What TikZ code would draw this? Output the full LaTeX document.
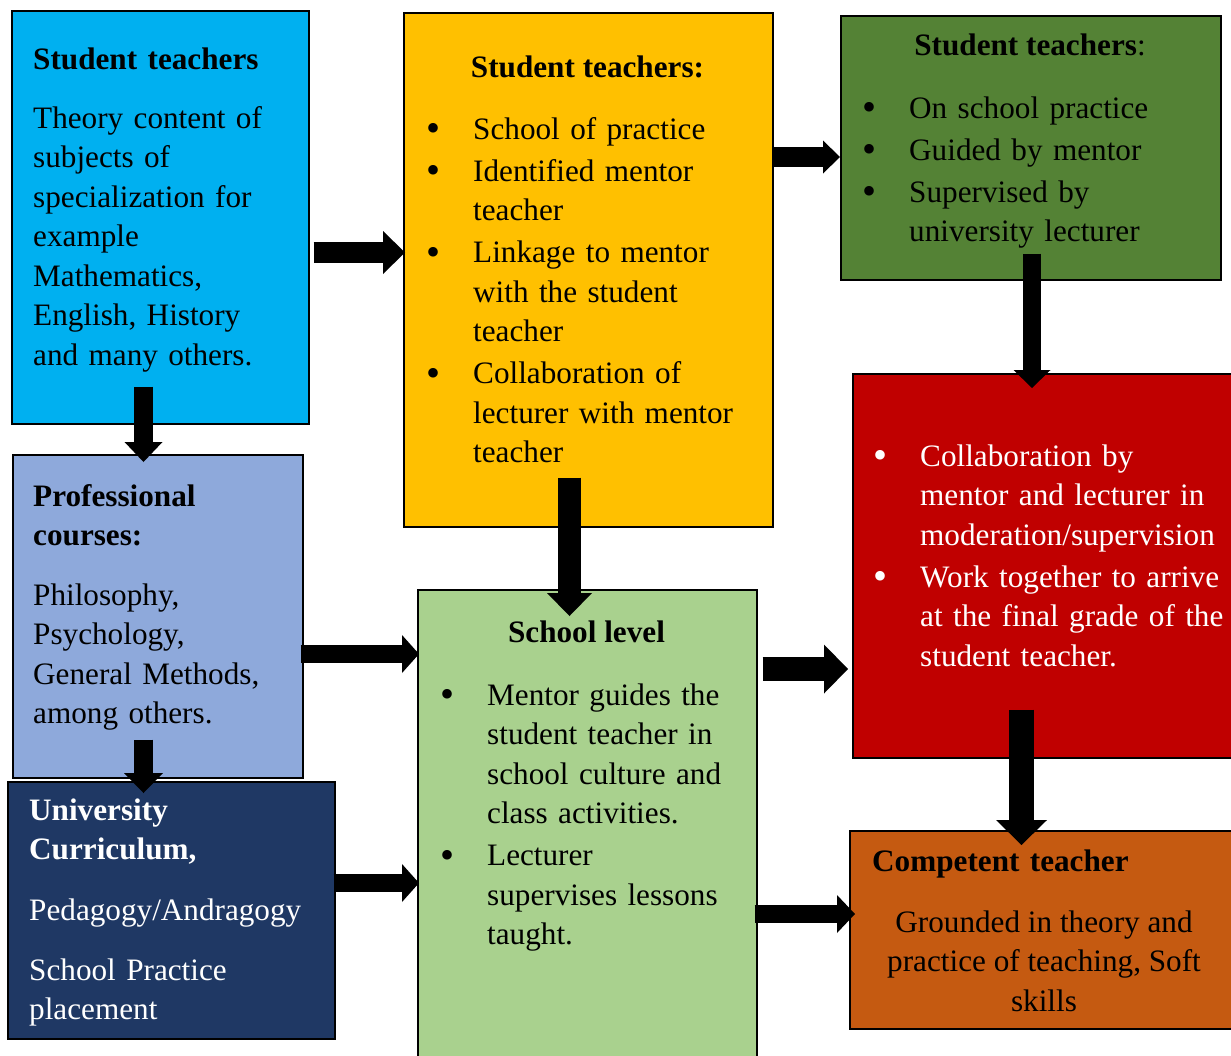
\documentclass[tikz,border=0pt]{standalone}
\usepackage{fontspec}
\setmainfont{Liberation Serif}
\usetikzlibrary{arrows.meta,calc}

\definecolor{cBlue}{HTML}{00B0F0}
\definecolor{cLB}{HTML}{8EA9DB}
\definecolor{cNavy}{HTML}{1F3864}
\definecolor{cYellow}{HTML}{FFC000}
\definecolor{cGreen}{HTML}{A9D18E}
\definecolor{cDG}{HTML}{548235}
\definecolor{cRed}{HTML}{C00000}
\definecolor{cOrange}{HTML}{C55A11}

\newcommand\bodyfont{\fontsize{31.2}{39.5}\selectfont\setlength\parindent{0pt}\setlength\parskip{2.5pt}}
% forced line break that stays inside the current paragraph
\newcommand\nl{\hfil\break}
% a slightly heavier list bullet
\newcommand\bigbullet{\raisebox{-2.5pt}{\fontsize{40}{40}\selectfont\textbullet}}
% bullet item with a hanging indent, closed inside the node group
\newcommand\bitem[1]{\hangindent=47pt\hangafter=1\noindent\makebox[47pt][l]{\bigbullet}#1\par}

\begin{document}
\begin{tikzpicture}[x=1pt,y=-1pt,
  box/.style={draw=black, line width=1.5pt, inner sep=0pt, anchor=north west},
  txt/.style={anchor=base west, inner sep=0pt, text width=#1, align=left, font=\bodyfont},
  ctr/.style={anchor=base, inner sep=0pt, font=\bodyfont},
  blockarrow/.style n args={3}{line width=#1, draw=black,
    -{Triangle[length=#2, width=#3, line width=0pt]}}]
\useasboundingbox (0,0) rectangle (1231,1055);
\clip (0,0) rectangle (1231,1055);

% boxes
\node[box, fill=cBlue,   minimum width=297pt, minimum height=413pt] (blue)   at (11,10)  {};
\node[box, fill=cLB,     minimum width=290pt, minimum height=323pt] (lb)     at (12,454) {};
\node[box, fill=cNavy,   minimum width=327pt, minimum height=257pt] (navy)   at (7,781)  {};
\node[box, fill=cYellow, minimum width=369pt, minimum height=514pt] (yellow) at (403,12) {};
\node[box, fill=cGreen,  minimum width=339pt, minimum height=475pt] (green)  at (417,589) {};
\node[box, fill=cDG,     minimum width=380pt, minimum height=264pt] (dg)     at (840,15) {};
\node[box, fill=cRed,    minimum width=382pt, minimum height=384pt] (red)    at (852,373) {};
\node[box, fill=cOrange, minimum width=385pt, minimum height=198pt] (orange) at (849,830) {};

% texts
\node[txt=270pt] (blueT) at (33,69) {\bfseries Student teachers};
\node[txt=270pt] (blueB) at (33,128) {Theory content of\nl subjects of\nl specialization for\nl example\nl Mathematics,\nl English, History\nl and many others.};

\node[ctr] (yellowT) at (587.5,77) {\bfseries Student teachers:};
\node[txt=330pt] (yellowB) at (426,139) {\bitem{School of practice}\bitem{Identified mentor\nl teacher}\bitem{Linkage to mentor\nl with the student\nl teacher}\bitem{Collaboration of\nl lecturer with mentor\nl teacher}};

\node[ctr] (dgT) at (1030,55) {\textbf{Student teachers}:};
\node[txt=340pt] (dgB) at (862,118) {\bitem{On school practice}\bitem{Guided by mentor}\bitem{Supervised by\nl university lecturer}};

\node[txt=280pt] (lbT) at (33,506) {\bfseries Professional\nl courses:};
\node[txt=280pt] (lbB) at (33,605) {Philosophy,\nl Psychology,\nl General Methods,\nl among others.};

\node[txt=300pt, text=white] (navyT) at (29,820) {\bfseries University\nl Curriculum,};
\node[txt=300pt, text=white] (navyB1) at (29,920) {Pedagogy/Andragogy};
\node[txt=300pt, text=white] (navyB2) at (29,980) {School Practice\nl placement};

\node[ctr] (greenT) at (586.5,642) {\bfseries School level};
\node[txt=320pt] (greenB) at (440,705) {\bitem{Mentor guides the\nl student teacher in\nl school culture and\nl class activities.}\bitem{Lecturer\nl supervises lessons\nl taught.}};

\node[txt=370pt, text=white] (redB) at (873,466) {\bitem{Collaboration by\nl mentor and lecturer in\nl moderation/supervision}\bitem{Work together to arrive\nl at the final grade of the\nl student teacher.}};

\node[txt=340pt] (orangeT) at (872,871) {\bfseries Competent teacher};
% the base of a centred multi-line node is its last line
\node[ctr, align=center] (orangeB) at (1044,1011) {Grounded in theory and\\practice of teaching, Soft\\skills};

% block arrows
\draw[blockarrow={21pt}{22pt}{43pt}] ($(blue.east|-0,252.5)+(4,0)$) -- ($(yellow.west|-0,252.5)+(2,0)$);
\draw[blockarrow={20pt}{17pt}{33pt}] (yellow.east|-0,157) -- (dg.west|-0,157);
\draw[blockarrow={19pt}{20pt}{38pt}] ($(blue.south-|143.5,0)+(0,-38)$) -- ($(lb.north-|143.5,0)+(0,8)$);
\draw[blockarrow={19pt}{20pt}{39pt}] ($(lb.south-|143.5,0)+(0,-39)$) -- ($(navy.north-|143.5,0)+(0,12)$);
\draw[blockarrow={18pt}{18pt}{37pt}] ($(dg.south-|1032,0)+(0,-27)$) -- ($(red.north-|1032,0)+(0,15)$);
\draw[blockarrow={25pt}{25pt}{51pt}] ($(red.south-|1021.5,0)+(0,-49)$) -- ($(orange.north-|1021.5,0)+(0,15)$);
\draw[blockarrow={23pt}{23pt}{45pt}] ($(yellow.south-|569.5,0)+(0,-50)$) -- ($(green.north-|569.5,0)+(0,27)$);
\draw[blockarrow={18pt}{17pt}{38pt}] ($(lb.east|-0,654)+(-3,0)$) -- ($(green.west|-0,654)+(2,0)$);
\draw[blockarrow={18pt}{17pt}{38pt}] ($(navy.east|-0,883)+(-2,0)$) -- ($(green.west|-0,883)+(2,0)$);
\draw[blockarrow={24pt}{24pt}{49pt}] ($(green.east|-0,669)+(5,0)$) -- ($(red.west|-0,669)+(-4,0)$);
\draw[blockarrow={18pt}{18pt}{38pt}] ($(green.east|-0,914)+(-3,0)$) -- ($(orange.west|-0,914)+(6,0)$);
\end{tikzpicture}
\end{document}
